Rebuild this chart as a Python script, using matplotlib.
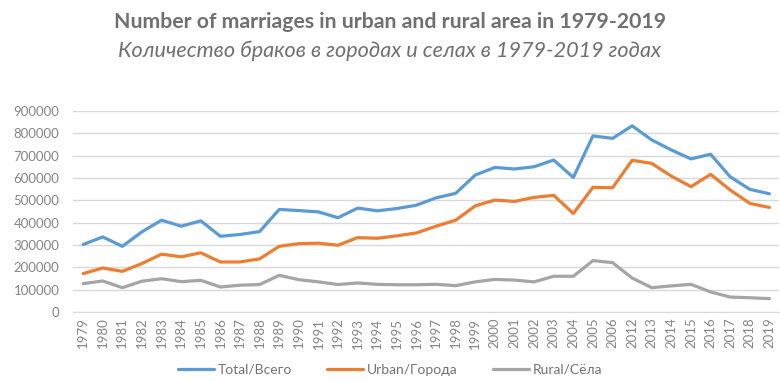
import matplotlib
matplotlib.use("Agg")
import matplotlib.pyplot as plt

# years on the category axis (2007-2011 are absent in the source table)
years = [str(y) for y in range(1979, 2007)] + [str(y) for y in range(2012, 2020)]

total = [302000, 336000, 294000, 359000, 411000, 384000, 408000, 339000, 347000,
         360000, 459000, 454000, 448000, 422000, 465000, 453000, 463000, 478000,
         511000, 531000, 613000, 647000, 640000, 650000, 680000, 602000, 788000,
         777000, 833000, 770000, 725000, 685000, 706000, 605000, 549000, 529000]
urban = [172000, 197000, 182000, 217000, 259000, 247000, 265000, 224000, 224000,
         238000, 294000, 306000, 308000, 299000, 333000, 330000, 341000, 354000,
         384000, 411000, 475000, 501000, 495000, 513000, 522000, 441000, 558000,
         556000, 679000, 665000, 608000, 561000, 616000, 546000, 486000, 468000]
rural = [127000, 139000, 109000, 138000, 149000, 136000, 142000, 112000, 120000,
         123000, 164000, 145000, 135000, 123000, 130000, 124000, 122000, 122000,
         124000, 118000, 135000, 146000, 143000, 135000, 160000, 160000, 230000,
         221000, 152000, 109000, 117000, 124000, 90000, 67000, 64000, 60000]

plt.rcParams['font.family'] = ['Lato', 'DejaVu Sans']
title_col = '#707070'
tick_col = '#858585'

fig = plt.figure(figsize=(7.8, 3.81), dpi=100)
ax = fig.add_axes([0.094, 0.181, 0.905, 0.528])

x = range(len(years))
ax.plot(x, total, color='#5B9BD5', lw=2.3, label='Total/Всего', solid_capstyle='round')
ax.plot(x, urban, color='#ED7D31', lw=2.3, label='Urban/Города', solid_capstyle='round')
ax.plot(x, rural, color='#A5A5A5', lw=2.3, label='Rural/Сёла', solid_capstyle='round')

ax.set_xlim(-0.5, len(years) - 0.5)
ax.set_ylim(0, 900000)
ax.set_yticks(range(0, 900001, 100000))
ax.set_yticklabels([str(v) for v in range(0, 900001, 100000)])
ax.set_xticks(list(x))
ax.set_xticklabels(years, rotation=90)
ax.grid(axis='y', color='#D9D9D9', lw=1)
ax.set_axisbelow(True)
for s in ['top', 'right', 'left']:
    ax.spines[s].set_visible(False)
ax.spines['bottom'].set_color('#D9D9D9')
ax.tick_params(axis='both', length=0, colors=tick_col, labelsize=9.5)
ax.tick_params(axis='y', pad=10)
ax.tick_params(axis='x', pad=4)

fig.text(0.50, 0.942, 'Number of marriages in urban and rural area in 1979-2019',
         ha='center', va='center', fontsize=15.3, fontweight='bold', color=title_col)
fig.text(0.50, 0.868, 'Количество браков в городах и селах в 1979-2019 годах',
         ha='center', va='center', fontsize=15.6, style='italic', color=title_col)

fig.legend(loc='center', bbox_to_anchor=(0.50, 0.03), ncol=3, frameon=False,
           fontsize=10, labelcolor='#737373', handlelength=2.6, columnspacing=2.5,
           handletextpad=0.3)

fig.savefig('out.png', dpi=100)
